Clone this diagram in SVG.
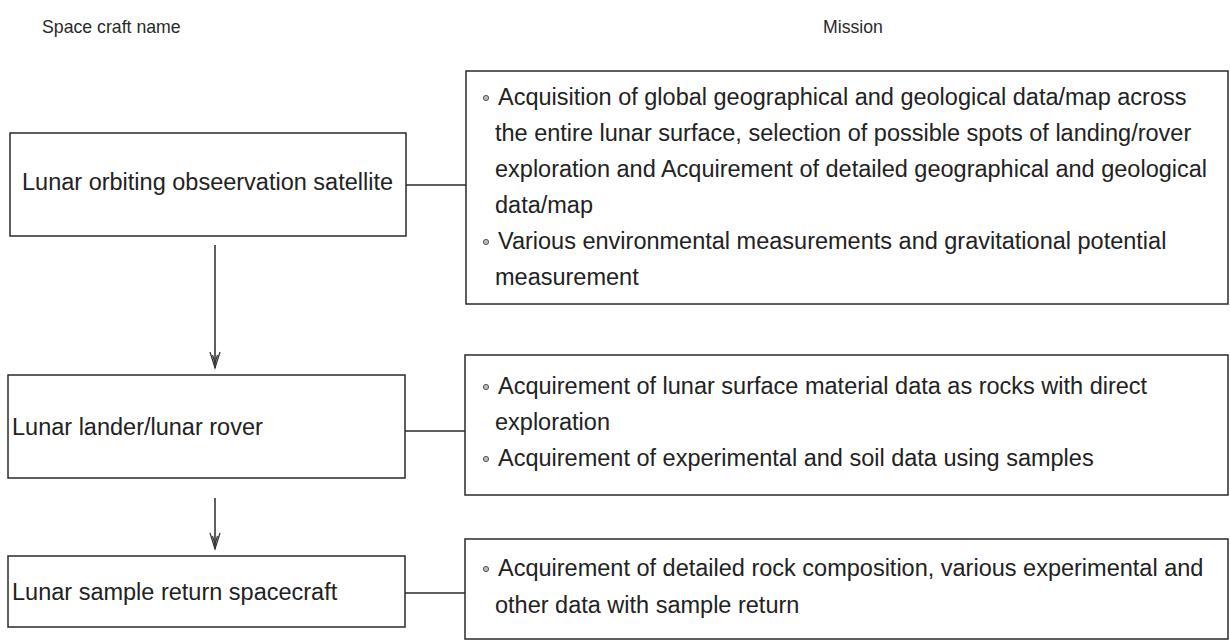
<svg xmlns="http://www.w3.org/2000/svg" width="1230" height="641" viewBox="0 0 1230 641">
  <style>
    .box { fill: #ffffff; stroke: #2a2a2a; stroke-width: 1.5; }
    .head { font-family: "Liberation Sans", Arial, sans-serif; font-size: 17.7px; fill: #2a2a2a; }
    .txt { font-family: "Liberation Sans", Arial, sans-serif; font-size: 23.5px; fill: #222222; }
    .link { fill: none; stroke: #2a2a2a; stroke-width: 1.5; }
    .dot { fill: #bbbbbb; stroke: #555555; stroke-width: 1; }
  </style>
  <defs>
    <!-- barbed open arrowhead; tip at the line end -->
    <marker id="vhead" viewBox="-18 -8 20 16" refX="0" refY="0" markerWidth="20" markerHeight="16" markerUnits="userSpaceOnUse" orient="auto">
      <path d="M-16,-5 L0,0 L-16,5 M-13,-2.5 L-5,0 L-13,2.5" fill="none" stroke="#333333" stroke-width="1.2"/>
    </marker>
  </defs>
  <rect width="1230" height="641" fill="#ffffff"/>

  <!-- column headings -->
  <g id="headings">
    <text class="head" x="42" y="33">Space craft name</text>
    <text class="head" x="823" y="33">Mission</text>
  </g>

  <!-- spacecraft -->
  <g id="orbiter">
    <rect class="box" x="10" y="133" width="396" height="103"/>
    <text class="txt" x="22" y="190">Lunar orbiting obseervation satellite</text>
  </g>
  <g id="lander">
    <rect class="box" x="8" y="375" width="397" height="103"/>
    <text class="txt" x="12" y="435">Lunar lander/lunar rover</text>
  </g>
  <g id="sample-return">
    <rect class="box" x="8" y="556" width="397" height="71"/>
    <text class="txt" x="12" y="600">Lunar sample return spacecraft</text>
  </g>

  <!-- missions -->
  <g id="orbiter-mission">
    <rect class="box" x="466" y="71" width="762" height="233"/>
    <circle class="dot" cx="486" cy="98" r="2.6"/>
    <text class="txt" x="498" y="105">Acquisition of global geographical and geological data/map across</text>
    <text class="txt" x="495" y="141">the entire lunar surface, selection of possible spots of landing/rover</text>
    <text class="txt" x="495" y="177">exploration and Acquirement of detailed geographical and geological</text>
    <text class="txt" x="495" y="213">data/map</text>
    <circle class="dot" cx="486" cy="242" r="2.6"/>
    <text class="txt" x="498" y="249">Various environmental measurements and gravitational potential</text>
    <text class="txt" x="495" y="285">measurement</text>
  </g>
  <g id="lander-mission">
    <rect class="box" x="465" y="355" width="763" height="140"/>
    <circle class="dot" cx="486" cy="387" r="2.6"/>
    <text class="txt" x="498" y="394">Acquirement of lunar surface material data as rocks with direct</text>
    <text class="txt" x="495" y="430">exploration</text>
    <circle class="dot" cx="486" cy="459" r="2.6"/>
    <text class="txt" x="498" y="466">Acquirement of experimental and soil data using samples</text>
  </g>
  <g id="sample-return-mission">
    <rect class="box" x="465" y="539" width="763" height="100"/>
    <circle class="dot" cx="486" cy="569" r="2.6"/>
    <text class="txt" x="498" y="576">Acquirement of detailed rock composition, various experimental and</text>
    <text class="txt" x="495" y="613">other data with sample return</text>
  </g>

  <!-- connectors -->
  <g id="connectors">
    <line class="link" x1="406" y1="185" x2="466" y2="185"/>
    <line class="link" x1="405" y1="431" x2="465" y2="431"/>
    <line class="link" x1="405" y1="593" x2="465" y2="593"/>
    <line class="link" x1="215" y1="245" x2="215" y2="368" marker-end="url(#vhead)"/>
    <line class="link" x1="215" y1="498" x2="215" y2="549" marker-end="url(#vhead)"/>
  </g>
</svg>
